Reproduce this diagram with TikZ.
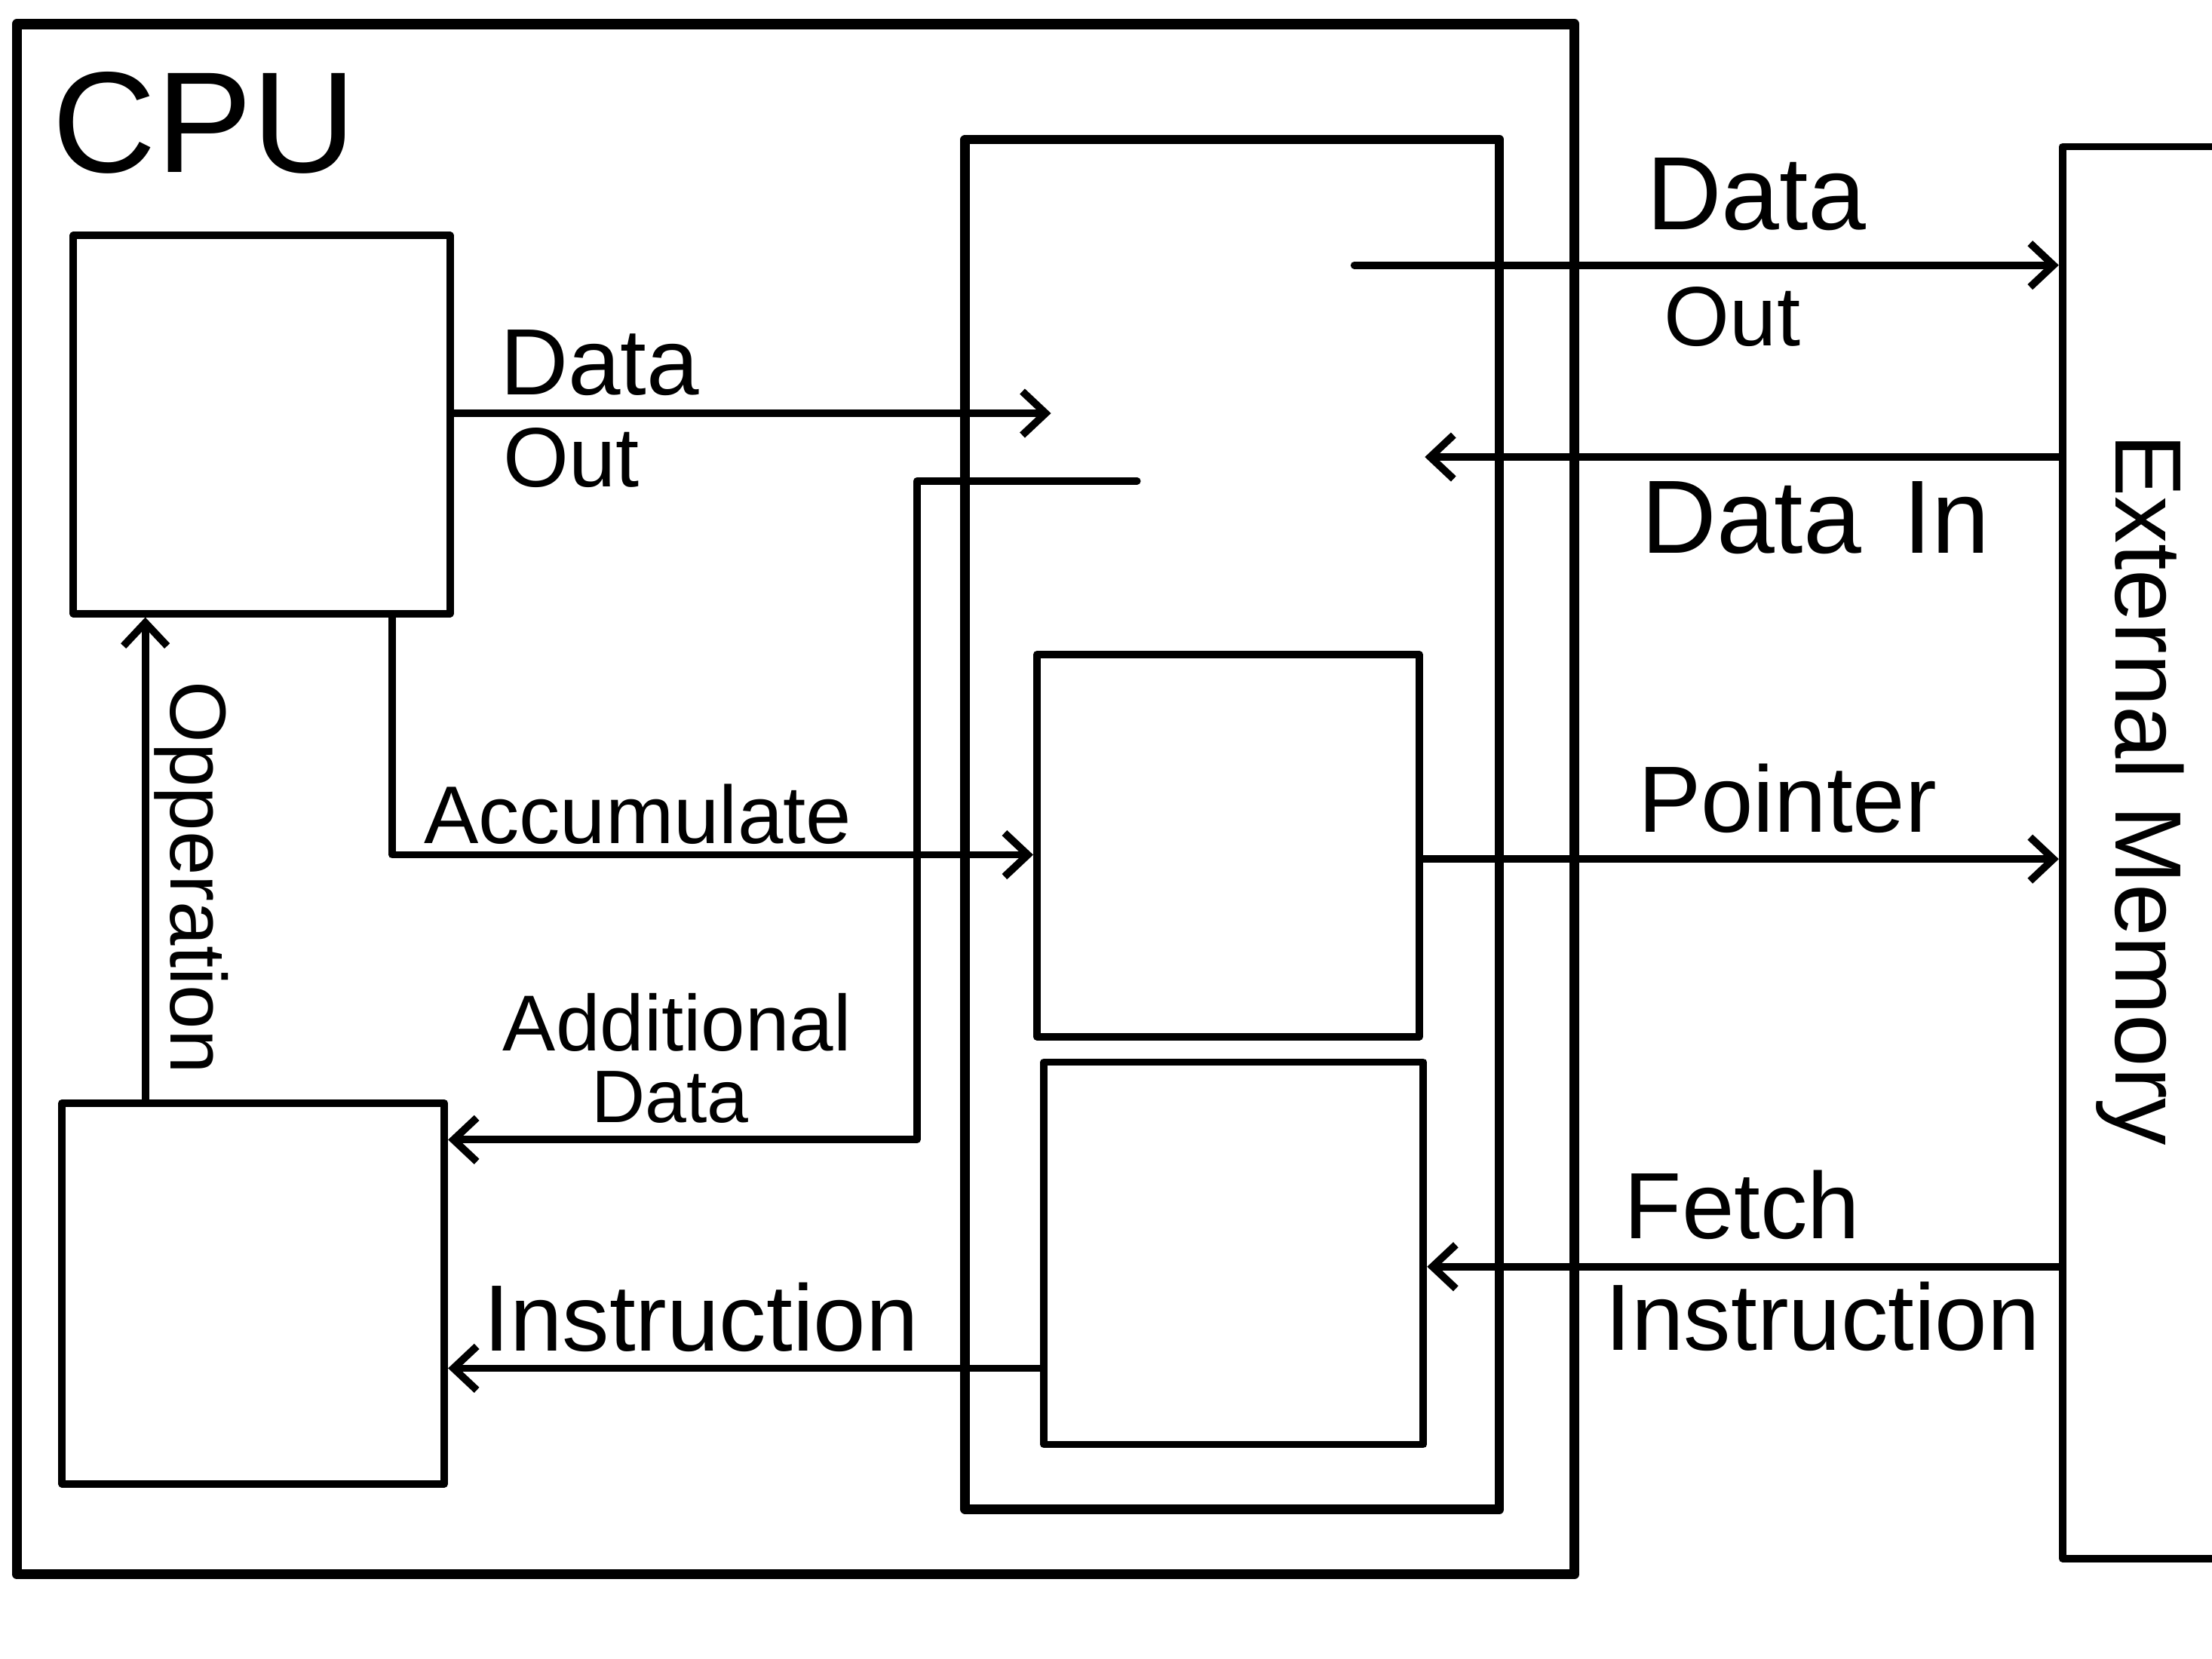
\documentclass[tikz,border=0pt]{standalone}
\usepackage{fontspec}
\setmainfont{Liberation Sans}
\usetikzlibrary{positioning}
\usetikzlibrary{arrows.meta}

\begin{document}
\begin{tikzpicture}[
			blk/.style={draw, line width=1.05mm, inner sep=0pt},
			wall/.style={draw, line width=1.45mm, inner sep=0pt},
			flow/.style={line width=1.05mm, -{Straight Barb[length=3.3mm,width=6.2mm]}},
			lbl/.style={font=\fontsize{38}{40}\selectfont, inner sep=0pt, anchor=base},
			line cap=round, line join=round,
			]
			\useasboundingbox (0,0) rectangle (31.36,23.52);
			\clip (0,0) rectangle (31.36,23.52);
			\node[wall, minimum width=22.08cm, minimum height=21.98cm] (cpu) at (11.28,12.19) {};
			\node[lbl, font=\fontsize{58}{60}\selectfont] (cpuLbl) at (2.9,21.08) {CPU};
			\node[blk, minimum width=5.34cm, minimum height=5.36cm] (alu) at (3.71,17.5) {};
			\node[blk, minimum width=5.42cm, minimum height=5.40cm] (ctrl) at (3.59,5.18) {};
			\node[wall, line width=1.3mm, minimum width=7.58cm, minimum height=19.42cm] (unit) at (17.47,11.83) {};
			\node[blk, minimum width=5.42cm, minimum height=5.42cm] (pc) at (17.41,11.53) {};
			\node[blk, minimum width=5.38cm, minimum height=5.42cm] (ir) at (17.49,5.75) {};
			\node[blk, minimum width=3.8cm, minimum height=20.02cm] (mem) at (31.14,11.43) {};
			\coordinate (doutEnd) at (14.9,17.66);
			\coordinate (addStart) at (16.12,16.7);
			\coordinate (addTurn) at (13.0,7.36);
			\coordinate (accTurn) at (5.56,11.4);
			\coordinate (opX) at (2.06,0);
			\coordinate (insY) at (0,4.12);
			\coordinate (xoutStart) at (19.2,19.76);
			\coordinate (dinEnd) at (20.2,17.04);
			\coordinate (ptrY) at (0,11.34);
			\coordinate (fetchY) at (0,5.56);
			\draw[flow] (alu.east |- doutEnd) -- (doutEnd);
			\draw[flow] (addStart) -| (addTurn) -- (ctrl.east |- addTurn);
			\draw[flow] (alu.south -| accTurn) -- (accTurn) -- (pc.west |- accTurn);
			\draw[flow] (ctrl.north -| opX) -- (alu.south -| opX);
			\draw[flow] (ir.west |- insY) -- (ctrl.east |- insY);
			\draw[flow] (xoutStart) -- (mem.west |- xoutStart);
			\draw[flow] (mem.west |- dinEnd) -- (dinEnd);
			\draw[flow] (pc.east |- ptrY) -- (mem.west |- ptrY);
			\draw[flow] (mem.west |- fetchY) -- (ir.east |- fetchY);
			\node[lbl] (doutTop) at (8.5,17.92) {Data};
			\node[lbl, font=\fontsize{34}{36}\selectfont] (doutBot) at (8.1,16.62) {Out};
			\node[lbl, font=\fontsize{33}{35}\selectfont] (accLbl) at (9.04,11.56) {Accumulate};
			\node[lbl, font=\fontsize{32}{34}\selectfont] (addTop) at (9.6,8.62) {Additional};
			\node[lbl, font=\fontsize{30}{32}\selectfont] (addBot) at (9.5,7.6) {Data};
			\node[lbl] (insLbl) at (9.94,4.36) {Instruction};
			\node[lbl, font=\fontsize{32}{34}\selectfont, rotate=-90] (opLbl) at (2.42,11.08) {Opperation};
			\node[lbl, font=\fontsize{42}{44}\selectfont] (xoutTop) at (24.9,20.26) {Data};
			\node[lbl, font=\fontsize{34}{36}\selectfont] (xoutBot) at (24.56,18.62) {Out};
			\node[lbl, font=\fontsize{42}{44}\selectfont] (dinLbl) at (25.74,15.68) {Data\hspace{0.4em}In};
			\node[lbl] (ptrLbl) at (25.34,11.72) {Pointer};
			\node[lbl] (fetchTop) at (24.7,5.96) {Fetch};
			\node[lbl] (fetchBot) at (25.84,4.38) {Instruction};
			\node[lbl, rotate=-90] (memLbl) at (30.0,12.32) {External Memory};
		\end{tikzpicture}
\end{document}
